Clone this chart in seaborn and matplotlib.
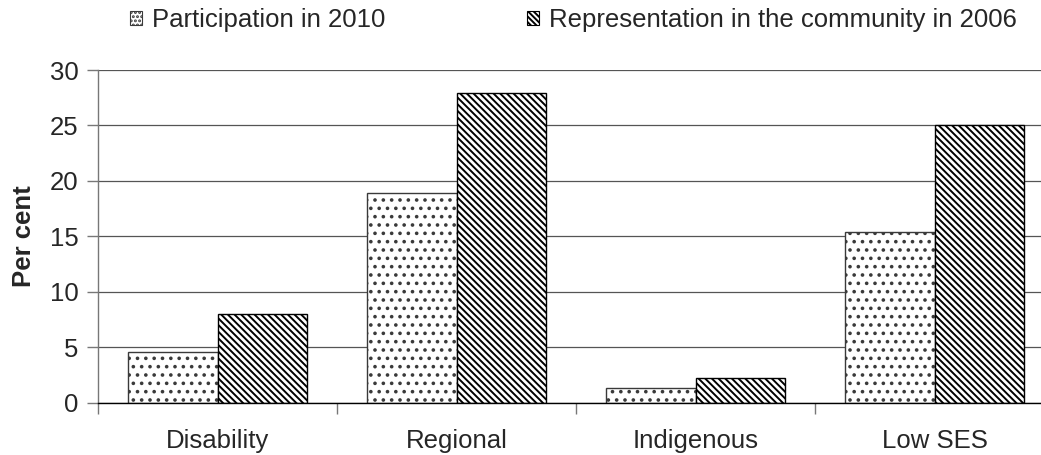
import matplotlib
matplotlib.use("Agg")
import matplotlib.pyplot as plt
from matplotlib.patches import Patch
from matplotlib.ticker import MultipleLocator, FixedLocator
import pandas as pd
import seaborn as sns

# Equity group shares (per cent)
groups = ["Disability", "Regional", "Indigenous", "Low SES"]
series_names = ["Participation in 2010", "Representation in the community in 2006"]
participation_2010 = [4.6, 18.9, 1.3, 15.4]
representation_2006 = [8.0, 27.9, 2.2, 25.0]

df = pd.DataFrame({
    "group": groups * 2,
    "series": [series_names[0]] * len(groups) + [series_names[1]] * len(groups),
    "value": participation_2010 + representation_2006,
})

sns.set_style("white")
plt.rcParams["font.family"] = ["Liberation Sans", "DejaVu Sans"]
plt.rcParams["hatch.linewidth"] = 1.4

FS = 18.5
W, H = 1041, 455
fig = plt.figure(figsize=(W / 100, H / 100), dpi=100)
ax = fig.add_axes([98 / W, (H - 402.5) / H, (1054 - 98) / W, 332.5 / H])

sns.barplot(data=df, x="group", y="value", hue="series", order=groups,
            hue_order=series_names, width=0.745, palette=["white", "white"],
            legend=False, ax=ax, zorder=3)

styles = [
    dict(hatch="..", edgecolor="#3a3a3a", linewidth=1.0),
    dict(hatch="\\\\\\\\\\", edgecolor="black", linewidth=1.0),
]
for container, st in zip(ax.containers, styles):
    for bar in container:
        bar.set_facecolor("white")
        bar.set_hatch(st["hatch"])
        bar.set_edgecolor(st["edgecolor"])
        bar.set_linewidth(st["linewidth"])

ax.set_xlim(-0.5, 3.5)
ax.set_ylim(0, 30)
ax.yaxis.set_major_locator(MultipleLocator(5))
ax.grid(axis="y", color="#555555", linewidth=0.9, zorder=0)
ax.set_axisbelow(True)

for side in ["top", "right"]:
    ax.spines[side].set_visible(False)
ax.spines["left"].set_color("#777777")
ax.spines["left"].set_linewidth(1.0)
ax.spines["bottom"].set_color("black")
ax.spines["bottom"].set_linewidth(1.0)
ax.spines["bottom"].set_zorder(4)

ax.tick_params(axis="y", which="major", direction="out", length=8, width=1.0,
               color="#777777", labelsize=FS, pad=6, left=True)
ax.tick_params(axis="x", which="major", length=0, labelsize=FS, pad=19)
ax.xaxis.set_minor_locator(FixedLocator([-0.5, 0.5, 1.5, 2.5, 3.5]))
ax.tick_params(axis="x", which="minor", direction="out", length=8, width=1.0,
               color="#777777", bottom=True)

ax.set_xlabel("")
ax.set_ylabel("Per cent", fontsize=FS, fontweight="bold", labelpad=10)

handles = [
    Patch(facecolor="white", edgecolor=styles[0]["edgecolor"], hatch="....", linewidth=0.8),
    Patch(facecolor="white", edgecolor="black", hatch="\\\\\\\\\\\\", linewidth=0.8),
]
fig.legend(handles, series_names, loc="center left", bbox_to_anchor=(130 / W, 1 - 20 / H),
           ncol=2, frameon=False, fontsize=FS, handlelength=0.47, handleheight=0.43,
           handletextpad=0.4, columnspacing=5.5, borderaxespad=0, borderpad=0)

fig.savefig("out.png", dpi=100)
